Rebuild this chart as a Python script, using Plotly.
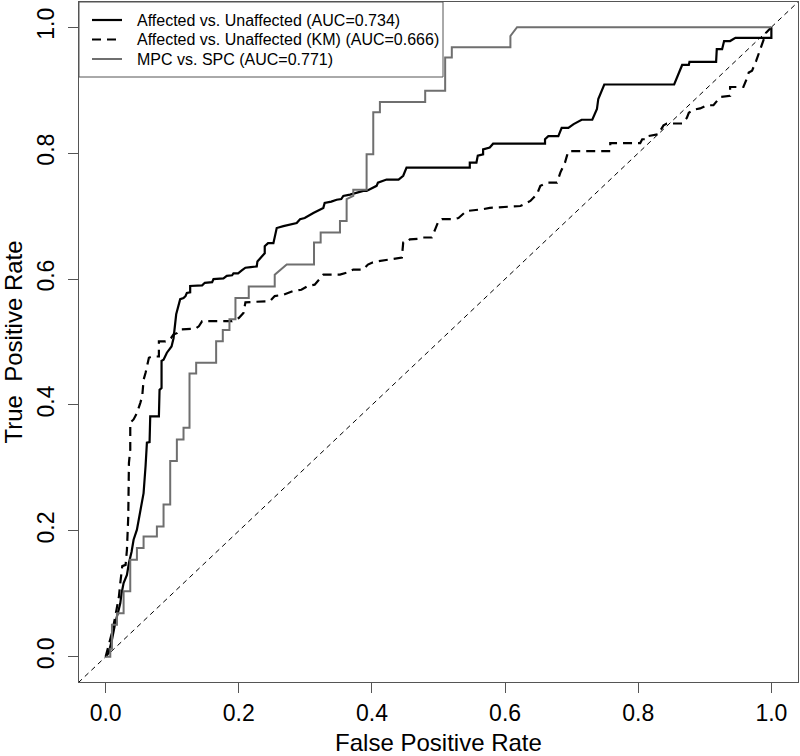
import plotly.graph_objects as go

# Affected vs. Unaffected (AUC=0.734) - solid black
fpr_aff = [0, 0.0045, 0.0095, 0.0145, 0.019, 0.022, 0.024, 0.027, 0.032, 0.035,
           0.039, 0.042, 0.047, 0.049, 0.054, 0.057, 0.060, 0.062, 0.066, 0.067,
           0.080, 0.081, 0.084, 0.084, 0.087, 0.092, 0.099, 0.102, 0.106, 0.109,
           0.112, 0.117, 0.120, 0.122, 0.127, 0.127, 0.145, 0.149, 0.160, 0.162,
           0.177, 0.182, 0.190, 0.192, 0.199, 0.205, 0.210, 0.218, 0.227, 0.228,
           0.239, 0.239, 0.244, 0.252, 0.257, 0.267, 0.287, 0.292, 0.299, 0.312,
           0.317, 0.327, 0.329, 0.339, 0.347, 0.354, 0.357, 0.367, 0.387, 0.392,
           0.407, 0.409, 0.422, 0.440, 0.447, 0.452, 0.547, 0.547, 0.557, 0.559,
           0.567, 0.567, 0.577, 0.582, 0.660, 0.660, 0.665, 0.680, 0.685, 0.695,
           0.703, 0.715, 0.731, 0.738, 0.740, 0.749, 0.854, 0.866, 0.876, 0.877,
           0.917, 0.918, 0.926, 0.929, 0.938, 0.946, 1.0, 1.0]
tpr_aff = [0, 0.006, 0.027, 0.054, 0.072, 0.085, 0.101, 0.117, 0.130, 0.149,
           0.167, 0.186, 0.202, 0.213, 0.239, 0.260, 0.303, 0.340, 0.341, 0.382,
           0.382, 0.424, 0.427, 0.470, 0.472, 0.483, 0.493, 0.506, 0.544, 0.557,
           0.568, 0.570, 0.573, 0.578, 0.579, 0.589, 0.590, 0.594, 0.595, 0.600,
           0.601, 0.605, 0.606, 0.609, 0.609, 0.614, 0.618, 0.619, 0.620, 0.628,
           0.641, 0.652, 0.657, 0.657, 0.681, 0.684, 0.689, 0.695, 0.697, 0.705,
           0.708, 0.713, 0.721, 0.723, 0.726, 0.727, 0.732, 0.734, 0.740, 0.740,
           0.748, 0.753, 0.758, 0.758, 0.764, 0.777, 0.777, 0.785, 0.785, 0.796,
           0.798, 0.806, 0.809, 0.815, 0.815, 0.822, 0.827, 0.827, 0.840, 0.840,
           0.846, 0.853, 0.853, 0.870, 0.886, 0.909, 0.909, 0.940, 0.940, 0.945,
           0.945, 0.965, 0.965, 0.978, 0.978, 0.983, 0.983, 1.0]

# Affected vs. Unaffected (KM) (AUC=0.666) - dashed black
fpr_km = [0, 0.0095, 0.0145, 0.020, 0.022, 0.025, 0.030, 0.032, 0.034, 0.034,
          0.035, 0.037, 0.037, 0.042, 0.047, 0.052, 0.055, 0.057, 0.060, 0.065,
          0.070, 0.080, 0.080, 0.090, 0.098, 0.102, 0.107, 0.112, 0.135, 0.140,
          0.145, 0.190, 0.195, 0.200, 0.207, 0.209, 0.210, 0.247, 0.254, 0.267,
          0.282, 0.294, 0.304, 0.314, 0.319, 0.327, 0.352, 0.362, 0.372, 0.387,
          0.394, 0.400, 0.407, 0.445, 0.447, 0.452, 0.457, 0.470, 0.477, 0.490,
          0.495, 0.500, 0.505, 0.522, 0.530, 0.537, 0.542, 0.567, 0.577, 0.623,
          0.638, 0.648, 0.653, 0.663, 0.678, 0.683, 0.690, 0.693, 0.695, 0.758,
          0.758, 0.803, 0.806, 0.813, 0.815, 0.830, 0.838, 0.843, 0.866, 0.873,
          0.876, 0.883, 0.893, 0.903, 0.913, 0.923, 0.938, 0.938, 0.958, 0.963,
          0.966, 0.971, 0.977, 0.985, 0.992, 1.0]
tpr_km = [0, 0.038, 0.064, 0.096, 0.117, 0.144, 0.146, 0.170, 0.223, 0.276,
          0.308, 0.329, 0.372, 0.377, 0.387, 0.403, 0.414, 0.440, 0.451, 0.475,
          0.477, 0.477, 0.501, 0.501, 0.506, 0.512, 0.514, 0.520, 0.521, 0.525,
          0.533, 0.533, 0.536, 0.538, 0.546, 0.557, 0.563, 0.565, 0.573, 0.575,
          0.581, 0.583, 0.589, 0.591, 0.597, 0.607, 0.607, 0.610, 0.615, 0.615,
          0.623, 0.626, 0.628, 0.634, 0.658, 0.658, 0.663, 0.664, 0.666, 0.666,
          0.679, 0.692, 0.695, 0.695, 0.697, 0.703, 0.708, 0.711, 0.713, 0.716,
          0.724, 0.735, 0.748, 0.753, 0.753, 0.769, 0.785, 0.796, 0.803, 0.803,
          0.816, 0.816, 0.822, 0.822, 0.827, 0.830, 0.844, 0.847, 0.847, 0.856,
          0.864, 0.869, 0.871, 0.876, 0.876, 0.889, 0.891, 0.905, 0.905, 0.918,
          0.928, 0.931, 0.946, 0.970, 0.991, 1.0]

# MPC vs. SPC (AUC=0.771) - gray
fpr_mpc = [0, 0.007, 0.007, 0.0095, 0.0095, 0.017, 0.017, 0.027, 0.027, 0.037,
           0.037, 0.047, 0.047, 0.057, 0.057, 0.077, 0.077, 0.087, 0.087, 0.097,
           0.097, 0.107, 0.107, 0.117, 0.117, 0.126, 0.126, 0.136, 0.136, 0.166,
           0.166, 0.176, 0.176, 0.186, 0.186, 0.195, 0.195, 0.215, 0.215, 0.254,
           0.254, 0.272, 0.313, 0.313, 0.323, 0.323, 0.352, 0.352, 0.362, 0.362,
           0.372, 0.372, 0.392, 0.392, 0.402, 0.402, 0.412, 0.412, 0.480, 0.480,
           0.510, 0.510, 0.520, 0.520, 0.608, 0.608, 0.618, 1.0]
tpr_mpc = [0, 0, 0.013, 0.013, 0.051, 0.051, 0.069, 0.069, 0.104, 0.104,
           0.154, 0.154, 0.173, 0.173, 0.191, 0.191, 0.207, 0.207, 0.242, 0.242,
           0.311, 0.311, 0.345, 0.345, 0.364, 0.364, 0.450, 0.450, 0.467, 0.467,
           0.501, 0.501, 0.519, 0.519, 0.536, 0.536, 0.570, 0.570, 0.588, 0.588,
           0.607, 0.623, 0.623, 0.658, 0.658, 0.674, 0.674, 0.692, 0.692, 0.727,
           0.732, 0.742, 0.742, 0.798, 0.798, 0.865, 0.865, 0.881, 0.881, 0.899,
           0.899, 0.952, 0.952, 0.968, 0.968, 0.986, 1.0, 1.0]

diag_x = [-0.1, 1.1]
diag_y = [-0.1, 1.1]

labels = ["Affected vs. Unaffected (AUC=0.734)",
          "Affected vs. Unaffected (KM) (AUC=0.666)",
          "MPC vs. SPC (AUC=0.771)"]
tick_vals = [0.0, 0.2, 0.4, 0.6, 0.8, 1.0]
tick_text = ["0.0", "0.2", "0.4", "0.6", "0.8", "1.0"]

FONT = "Liberation Sans, Arial, sans-serif"
GRAY = "#6f6f6f"
BOX = "#555555"

series = [
    (fpr_aff, tpr_aff, dict(color="black", width=2.2)),
    (fpr_km, tpr_km, dict(color="black", width=2.2, dash="9px,6px")),
    (fpr_mpc, tpr_mpc, dict(color=GRAY, width=2)),
]

fig = go.Figure()
fig.add_trace(go.Scatter(x=diag_x, y=diag_y, mode="lines", showlegend=False,
                         hoverinfo="skip",
                         line=dict(color="black", width=1, dash="5px,4px")))
for (fx, ty, ln), name in zip(series, labels):
    fig.add_trace(go.Scatter(x=fx, y=ty, mode="lines", name=name,
                             showlegend=False, line=ln))

# Manual legend box at the top-left corner (R style legend)
W, H = 800, 756
ML, MR, MT, MB = 79, 2, 2, 74
pw, ph = W - ML - MR, H - MT - MB


def px2x(p):
    return (p - ML) / pw


def py2y(p):
    return (H - MB - p) / ph


shapes = [dict(type="rect", xref="paper", yref="paper",
               x0=0, x1=px2x(443), y0=py2y(77), y1=1,
               line=dict(color=BOX, width=1), fillcolor="white", layer="above")]
annotations = []
row_py = [20, 39.5, 59]
for (fx, ty, ln), name, rp in zip(series, labels, row_py):
    lnd = dict(ln)
    shapes.append(dict(type="line", xref="paper", yref="paper",
                       x0=px2x(92), x1=px2x(122), y0=py2y(rp), y1=py2y(rp),
                       line=lnd, layer="above"))
    annotations.append(dict(xref="paper", yref="paper", x=px2x(135), y=py2y(rp),
                            text=name, showarrow=False, xanchor="left",
                            yanchor="middle",
                            font=dict(family=FONT, size=16, color="black")))

axis_common = dict(
    showgrid=False, zeroline=False, showline=True, mirror=True,
    linecolor=BOX, linewidth=1, ticks="outside", ticklen=10,
    tickcolor=BOX, tickwidth=1, tickvals=tick_vals, ticktext=tick_text,
    tickfont=dict(family=FONT, size=23, color="black"),
)

fig.update_layout(
    width=W, height=H,
    margin=dict(l=ML, r=MR, t=MT, b=MB, autoexpand=False),
    plot_bgcolor="white", paper_bgcolor="white",
    font=dict(family=FONT, color="black"),
    xaxis=dict(range=[-0.04, 1.04], **axis_common,
               title=dict(text="False Positive Rate",
                          font=dict(family=FONT, size=24), standoff=17)),
    yaxis=dict(range=[-0.04, 1.04], tickangle=-90, ticklabelstandoff=5,
               **axis_common,
               title=dict(text="True\u00a0 Positive Rate",
                          font=dict(family=FONT, size=24), standoff=8)),
    shapes=shapes,
    annotations=annotations,
    showlegend=False,
)

fig.write_html("out.html", config={"displayModeBar": False},
               post_script="document.body.style.margin='0px';")
